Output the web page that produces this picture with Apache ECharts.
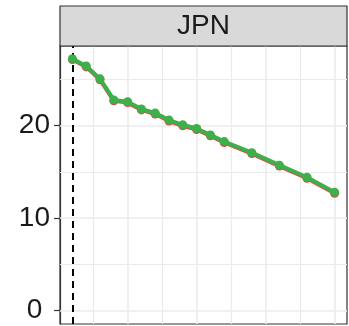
<!DOCTYPE html>
<html>
<head>
<meta charset="utf-8">
<script src="https://cdn.jsdelivr.net/npm/echarts@6/dist/echarts.min.js"></script>
<style>
html,body{margin:0;padding:0;background:#fff;}
#c{width:349px;height:326px;}
</style>
</head>
<body>
<div id="c"></div>
<script>
const panelTitle = "JPN";
const years = [2001, 2002, 2003, 2004, 2005, 2006, 2007, 2008, 2009, 2010, 2011, 2012, 2014, 2016, 2018, 2020];
const greenValues = [27.23, 26.44, 25.05, 22.77, 22.58, 21.79, 21.35, 20.59, 20.08, 19.68, 18.99, 18.27, 17.07, 15.72, 14.41, 12.78];
const redValues = [27.13, 26.34, 24.95, 22.67, 22.48, 21.69, 21.25, 20.49, 19.98, 19.58, 18.89, 18.17, 16.97, 15.62, 14.31, 12.68];
const yTickValues = [0, 10, 20];
const yTickLabels = ["0 ", "10", "20"];
const yMajorGrid = [0, 10, 20];
const yMinorGrid = [5, 15, 25];
const xMajorGrid = [2005, 2010, 2015, 2020];
const xMinorGrid = [2002.5, 2007.5, 2012.5, 2017.5];
const refYear = 2001;

const chart = echarts.init(document.getElementById('c'), null, {renderer: 'canvas'});
const FONT = 'Liberation Sans, Arial, sans-serif';

function gridLines(vals, axis, width) {
  return vals.map(v => ({[axis]: v, lineStyle: {color: '#EBEBEB', width: width, type: 'solid'}}));
}

const option = {
  animation: false,
  backgroundColor: '#ffffff',
  grid: {left: 60, right: 2, top: 46, bottom: 2, show: true, borderColor: '#333333', borderWidth: 1.2, backgroundColor: '#fff', z: 0},
  xAxis: {
    type: 'value', min: 2000.1, max: 2020.9,
    axisLine: {show: false}, axisTick: {show: false}, axisLabel: {show: false}, splitLine: {show: false}
  },
  yAxis: {
    type: 'value', min: -1.45, max: 28.6,
    axisLine: {show: true, lineStyle: {color: '#333333', width: 1.2}},
    axisTick: {show: true, length: 6, lineStyle: {color: '#333333', width: 1.2}, customValues: yTickValues},
    axisLabel: {
      show: true, margin: 10, color: '#1A1A1A', fontSize: 28, fontFamily: FONT,
      customValues: yTickValues,
      formatter: v => { const i = yTickValues.indexOf(v); return i >= 0 ? yTickLabels[i] : ''; }
    },
    splitLine: {show: false}
  },
  graphic: [
    {type: 'rect', shape: {x: 60, y: 6, width: 287, height: 40}, style: {fill: '#D9D9D9', stroke: '#333333', lineWidth: 1.2}, z: 10},
    {type: 'text', x: 203.5, y: 26, style: {text: panelTitle, fill: '#1A1A1A', fontSize: 28, fontFamily: FONT, align: 'center', verticalAlign: 'middle'}, z: 11}
  ],
  series: [
    {
      type: 'line', data: [], silent: true, z: 1,
      markLine: {
        z: 1,
        silent: true, symbol: 'none', label: {show: false}, animation: false,
        data: [].concat(
          gridLines(yMinorGrid, 'yAxis', 1.2),
          gridLines(xMinorGrid, 'xAxis', 1.2),
          gridLines(yMajorGrid, 'yAxis', 1.6),
          gridLines(xMajorGrid, 'xAxis', 1.6)
        )
      }
    },
    {
      type: 'line', data: [], silent: true, z: 2,
      markLine: {
        z: 2,
        silent: true, symbol: 'none', label: {show: false}, animation: false,
        data: [{xAxis: refYear, lineStyle: {color: '#000000', width: 2, type: [7, 5]}}]
      }
    },
    {
      type: 'line', z: 3,
      data: years.map((y, i) => [y, redValues[i]]),
      lineStyle: {color: '#E8404A', width: 4},
      itemStyle: {color: '#E8404A'},
      symbol: 'circle', symbolSize: 9, showAllSymbol: true
    },
    {
      type: 'line', z: 4,
      data: years.map((y, i) => [y, greenValues[i]]),
      lineStyle: {color: '#3DB049', width: 4},
      itemStyle: {color: '#3DB049'},
      symbol: 'circle', symbolSize: 9, showAllSymbol: true
    }
  ]
};
chart.setOption(option);
</script>
</body>
</html>
